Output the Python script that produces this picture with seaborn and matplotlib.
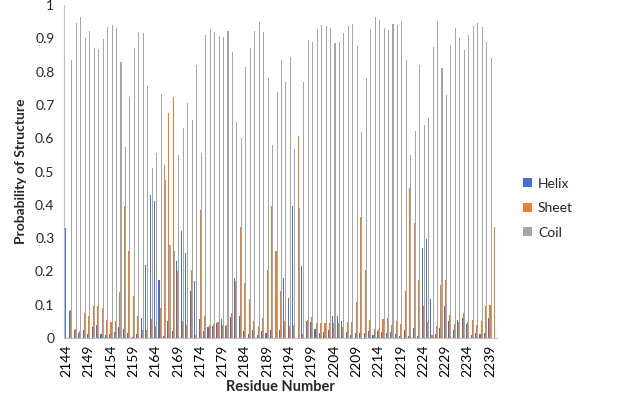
import numpy as np
import pandas as pd
import matplotlib
matplotlib.use("Agg")
import matplotlib.pyplot as plt
import seaborn as sns

# residues 2144..2240
residues = list(range(2144, 2241))

helix = [0.33, 0.08, 0.025, 0.015, 0.025, 0.013, 0.033, 0.038, 0.012, 0.01,
         0.013, 0.018, 0.033, 0.028, 0.015, 0.003, 0.013, 0.06, 0.22, 0.43,
         0.41, 0.175, 0.005, 0.05, 0.02, 0.23, 0.32, 0.255, 0.14, 0.17,
         0.056, 0.02, 0.033, 0.037, 0.046, 0.057, 0.037, 0.063, 0.18, 0.067,
         0.022, 0.012, 0.025, 0.01, 0.02, 0.015, 0.025, 0.0, 0.025, 0.18,
         0.12, 0.395, 0.0, 0.215, 0.05, 0.047, 0.028, 0.015, 0.017, 0.025,
         0.067, 0.065, 0.05, 0.017, 0.01, 0.015, 0.015, 0.015, 0.02, 0.01,
         0.02, 0.017, 0.015, 0.017, 0.012, 0.005, 0.025, 0.005, 0.03, 0.005,
         0.27, 0.297, 0.117, 0.012, 0.03, 0.097, 0.052, 0.025, 0.053, 0.06,
         0.043, 0.01, 0.015, 0.012, 0.015, 0.06, 0.0]

sheet = [0.0, 0.083, 0.028, 0.022, 0.075, 0.065, 0.097, 0.095, 0.09, 0.055,
         0.047, 0.05, 0.137, 0.397, 0.26, 0.127, 0.067, 0.025, 0.023, 0.057,
         0.037, 0.09, 0.52, 0.675, 0.723, 0.2, 0.05, 0.04, 0.205, 0.01,
         0.385, 0.065, 0.04, 0.043, 0.047, 0.038, 0.04, 0.075, 0.17, 0.332,
         0.165, 0.117, 0.052, 0.037, 0.06, 0.205, 0.395, 0.26, 0.14, 0.05,
         0.037, 0.04, 0.607, 0.012, 0.055, 0.063, 0.045, 0.045, 0.045, 0.045,
         0.045, 0.045, 0.033, 0.047, 0.047, 0.107, 0.363, 0.205, 0.055, 0.027,
         0.027, 0.057, 0.06, 0.04, 0.052, 0.042, 0.14, 0.45, 0.345, 0.175,
         0.095, 0.047, 0.008, 0.035, 0.16, 0.175, 0.07, 0.042, 0.047, 0.075,
         0.047, 0.053, 0.04, 0.05, 0.095, 0.1, 0.332]

coil = [0.0, 0.835, 0.947, 0.963, 0.90, 0.922, 0.87, 0.867, 0.898, 0.935,
        0.94, 0.932, 0.83, 0.575, 0.725, 0.87, 0.92, 0.915, 0.757, 0.51,
        0.555, 0.733, 0.475, 0.28, 0.26, 0.55, 0.63, 0.705, 0.655, 0.82,
        0.555, 0.91, 0.927, 0.92, 0.907, 0.905, 0.922, 0.86, 0.65, 0.60,
        0.815, 0.872, 0.923, 0.95, 0.92, 0.78, 0.58, 0.74, 0.835, 0.77,
        0.843, 0.567, 0.39, 0.77, 0.895, 0.89, 0.927, 0.94, 0.938, 0.93,
        0.887, 0.89, 0.917, 0.937, 0.942, 0.877, 0.62, 0.78, 0.927, 0.965,
        0.955, 0.93, 0.925, 0.943, 0.94, 0.952, 0.835, 0.55, 0.623, 0.82,
        0.64, 0.66, 0.875, 0.953, 0.81, 0.73, 0.88, 0.93, 0.90, 0.865,
        0.91, 0.937, 0.945, 0.935, 0.89, 0.84, 0.0]

structures = ["Helix", "Sheet", "Coil"]
colors = ["#4472C4", "#ED7D31", "#A5A5A5"]

df = pd.DataFrame({
    "Residue": [str(r) for r in residues] * 3,
    "Structure": np.repeat(structures, len(residues)),
    "Probability": helix + sheet + coil,
})

sns.set_style("white")
plt.rcParams["font.family"] = ["Lato", "DejaVu Sans"]

fig = plt.figure(figsize=(6.17, 3.98), dpi=100)
ax = fig.add_axes([0.104, 0.151, 0.701, 0.836])

sns.barplot(data=df, x="Residue", y="Probability", hue="Structure",
            palette=colors, width=0.72, linewidth=0, saturation=1,
            ax=ax, legend=True)

n = len(residues)
ax.set_xlim(-0.5, n - 0.5)
ax.set_ylim(0, 1)
ax.set_yticks(np.arange(0, 1.01, 0.1))
ax.set_yticklabels(["0"] + [f"{v:.1f}" for v in np.arange(0.1, 0.95, 0.1)] + ["1"])
ax.set_xticks(range(0, n, 5))
ax.set_xticklabels([str(r) for r in residues[::5]], rotation=90)
ax.set_xticks(np.arange(-0.5, n, 1), minor=True)
ax.tick_params(axis="x", which="major", length=0, labelsize=10, pad=5, colors="#000000")
ax.tick_params(axis="x", which="minor", length=4, width=0.6, color="#BFBFBF", direction="out")
ax.tick_params(axis="y", length=4, width=0.6, color="#BFBFBF", labelsize=10, pad=3)

for side in ["top", "right"]:
    ax.spines[side].set_visible(False)
for side in ["left", "bottom"]:
    ax.spines[side].set_color("#BFBFBF")
    ax.spines[side].set_linewidth(0.8)

ax.set_xlabel("Residue Number", fontsize=10.5, fontweight="bold", labelpad=2)
ax.set_ylabel("Probability of Structure", fontsize=10, fontweight="bold", labelpad=6)

handles, labels = ax.get_legend_handles_labels()
ax.get_legend().remove()
fig.legend(handles, labels, loc="upper left", bbox_to_anchor=(0.828, 0.585),
           frameon=False, fontsize=10, handlelength=0.65, handleheight=0.65,
           handletextpad=0.4, labelspacing=0.9)

fig.savefig("out.png", dpi=100)
